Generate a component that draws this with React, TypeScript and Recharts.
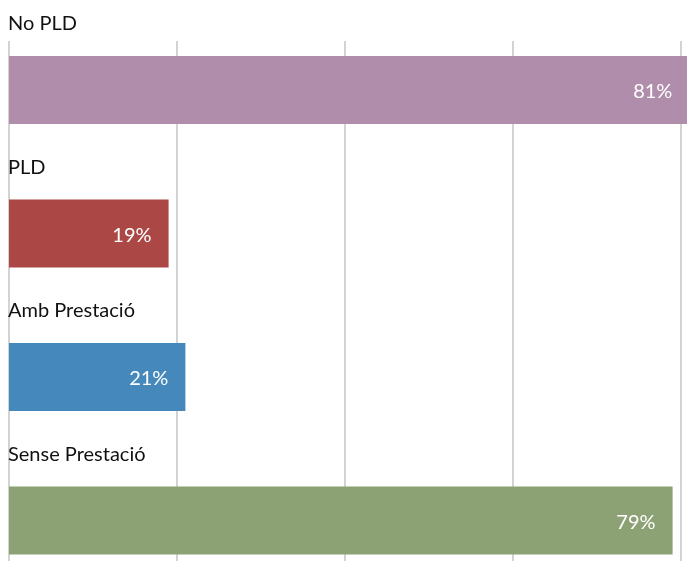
import React from "react";
import { BarChart, Bar, XAxis, YAxis, CartesianGrid, Cell, LabelList } from "recharts";

const categories = ["No PLD", "PLD", "Amb Prestació", "Sense Prestació"];
const values = [81, 19, 21, 79];
const colors = ["#b08eab", "#ab4744", "#4589bc", "#8da274"];
const xTicks = [0, 20, 40, 60, 80, 100];

const data = categories.map((name, i) => ({ name, value: values[i] }));

const FONT = "Lato, 'Open Sans', sans-serif";

const renderName = (props: any) => {
  const { x, y, value } = props;
  return (
    <text x={x - 1} y={y - 26} fill="#111" fontSize={20} fontFamily={FONT}>
      {value}
    </text>
  );
};

const renderValue = (props: any) => {
  const { x, y, width, height, value } = props;
  return (
    <text
      x={x + width - 17}
      y={y + height / 2}
      fill="#ffffff"
      fontSize={20}
      fontFamily={FONT}
      textAnchor="end"
      dominantBaseline="central"
    >
      {`${value}%`}
    </text>
  );
};

export default function App() {
  return (
    <div
      style={{
        position: "fixed",
        left: 8,
        top: 8,
        width: 679,
        height: 553,
        overflow: "hidden",
      }}
    >
      <BarChart
        width={842}
        height={584}
        data={data}
        layout="vertical"
        margin={{ top: 10, right: 1, left: 1, bottom: 0 }}
      >
        <CartesianGrid
          horizontal={false}
          vertical={true}
          stroke="#c4c4c4"
          strokeWidth={1.5}
          y={33}
          height={600}
        />
        <XAxis type="number" domain={[0, 100]} ticks={xTicks} hide />
        <YAxis type="category" dataKey="name" hide />
        <Bar dataKey="value" barSize={68} isAnimationActive={false}>
          {data.map((d, i) => (
            <Cell key={d.name} fill={colors[i]} />
          ))}
          <LabelList dataKey="name" content={renderName} />
          <LabelList dataKey="value" content={renderValue} />
        </Bar>
      </BarChart>
    </div>
  );
}
